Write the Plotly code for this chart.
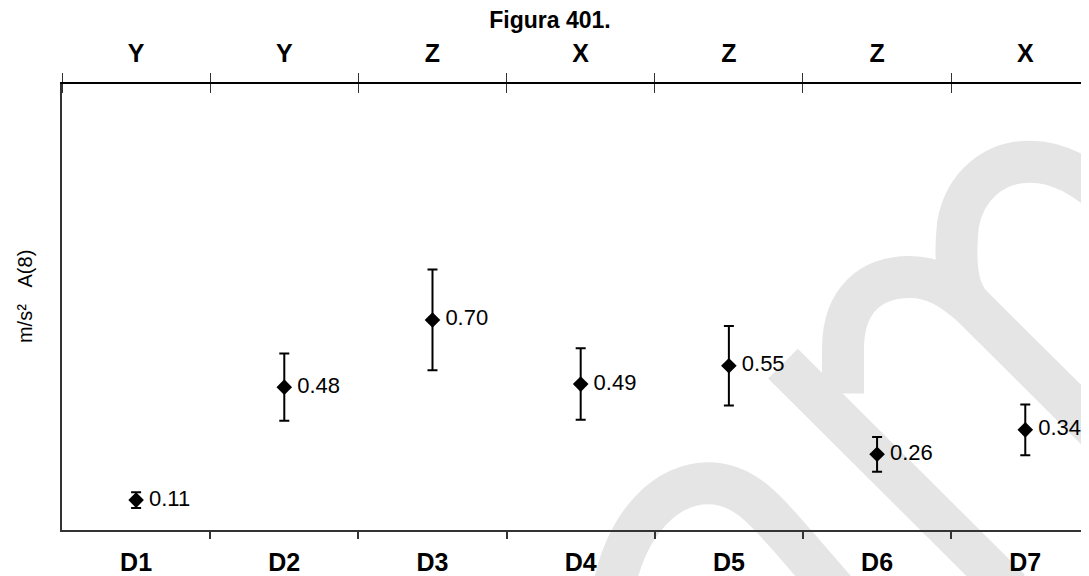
import plotly.graph_objects as go

# Data
categories = ["D1", "D2", "D3", "D4", "D5", "D6", "D7"]
directions = ["Y", "Y", "Z", "X", "Z", "Z", "X"]
a8_values = [0.11, 0.48, 0.70, 0.49, 0.55, 0.26, 0.34]
a8_errors = [0.026, 0.11, 0.165, 0.117, 0.13, 0.057, 0.083]
labels = ["\u2009" + f"{v:.2f}" for v in a8_values]

W, H = 1089, 576
OFF = 8  # page body margin shifts the figure on screen
L, R, T, B = 62 - OFF, OFF, 84 - OFF, H - (532 - OFF)
positions = list(range(len(categories)))
bounds = [i - 0.5 for i in range(len(categories) + 1)]


def to_paper(x, y):
    # screen pixel -> paper coordinates
    x, y = x - OFF, y - OFF
    return (x - L) / (W - L - R), (H - B - y) / (H - T - B)


def make_path(segments):
    out = []
    for cmd, pts in segments:
        coords = " ".join("%.4f,%.4f" % to_paper(x, y) for x, y in pts)
        out.append(cmd + " " + coords)
    return " ".join(out)


# light grey logo watermark in the background
watermark = [
    [("M", [(612, 600)]), ("C", [(625, 520), (670, 485), (708, 485)]),
     ("C", [(742, 485), (762, 508), (790, 540)]), ("L", [(835, 592)])],
    [("M", [(783, 365)]), ("L", [(1010, 592)])],
    [("M", [(843, 395)]), ("L", [(843, 350)]), ("C", [(843, 300), (872, 278), (910, 278)]),
     ("C", [(935, 278), (952, 290), (972, 307)]), ("L", [(1120, 455)])],
    [("M", [(972, 307)]), ("C", [(955, 290), (955, 255), (958, 225)]),
     ("C", [(965, 185), (995, 162), (1030, 162)]), ("C", [(1060, 162), (1085, 178), (1110, 200)])],
]

fig = go.Figure()

fig.add_trace(go.Scatter(
    x=positions, y=a8_values, mode="markers+text",
    marker=dict(symbol="diamond", size=12, color="black"),
    error_y=dict(type="data", array=a8_errors, color="black", thickness=2, width=5),
    text=labels, textposition="middle right",
    textfont=dict(size=22, color="black"),
    cliponaxis=False, showlegend=False, hoverinfo="skip"
))
# invisible traces so the top axes get drawn
for ax in ["x2", "x3"]:
    fig.add_trace(go.Scatter(x=positions, y=a8_values, xaxis=ax, mode="markers",
                             marker=dict(opacity=0), showlegend=False, hoverinfo="skip"))

for segs in watermark:
    fig.add_shape(type="path", xref="paper", yref="paper", path=make_path(segs),
                  line=dict(color="#e5e5e5", width=42), layer="below")

fig.update_layout(
    width=W, height=H,
    margin=dict(l=L, r=R, t=T, b=B),
    paper_bgcolor="white", plot_bgcolor="rgba(0,0,0,0)",
    font=dict(family="Liberation Sans, Arial, sans-serif", color="black"),
    title=dict(text="Figura 401.", x=(550 - OFF) / W, xanchor="center", y=1 - (20 - OFF) / H,
               yanchor="middle", yref="container", font=dict(size=23, weight="bold")),
    xaxis=dict(
        range=[-0.5, 6.43], tickmode="array", tickvals=positions, ticktext=categories,
        ticks="", tickfont=dict(size=25, weight="bold"), ticklabelstandoff=9,
        showgrid=False, zeroline=False,
        showline=True, linecolor="#333", linewidth=2,
        minor=dict(tickmode="array", tickvals=bounds[1:-1], ticks="outside", ticklen=7,
                   tickcolor="#333", tickwidth=1.5, showgrid=False),
    ),
    xaxis2=dict(
        overlaying="x", side="top", matches="x", anchor="y",
        tickmode="array", tickvals=positions, ticktext=directions,
        ticks="", tickfont=dict(size=25, weight="bold"), ticklabelstandoff=10,
        showgrid=False, zeroline=False,
        showline=True, linecolor="black", linewidth=1.5,
        minor=dict(tickmode="array", tickvals=bounds, ticks="outside", ticklen=9,
                   tickcolor="#333", tickwidth=1.2, showgrid=False),
    ),
    xaxis3=dict(
        overlaying="x", side="top", matches="x", anchor="y", showticklabels=False,
        tickmode="array", tickvals=[], ticks="", showgrid=False, zeroline=False,
        minor=dict(tickmode="array", tickvals=bounds, ticks="inside", ticklen=9,
                   tickcolor="#333", tickwidth=1.2, showgrid=False),
    ),
    yaxis=dict(
        range=[0.012, 1.473], showticklabels=False, ticks="", showgrid=False, zeroline=False,
        showline=True, linecolor="#333", linewidth=1.5,
    ),
)

fig.add_annotation(
    text="m/s\u00b2\u00a0\u00a0\u00a0A(8)", textangle=-90, showarrow=False,
    xref="paper", yref="paper",
    x=to_paper(25, 298)[0], y=to_paper(25, 298)[1],
    xanchor="center", yanchor="middle", font=dict(size=20, color="black"),
)

fig.write_html("out.html")
